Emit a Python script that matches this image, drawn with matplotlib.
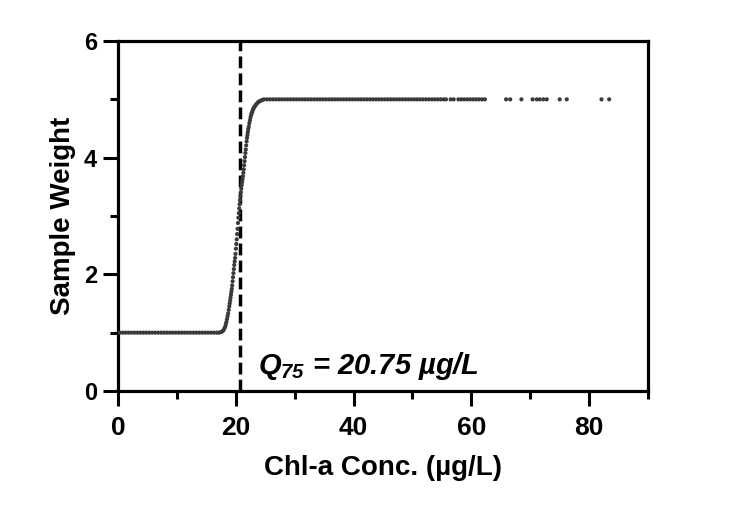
#!/usr/bin/env python3
"""Sample weight vs Chl-a concentration with Q75 threshold."""
import matplotlib
matplotlib.use('Agg')
import matplotlib.pyplot as plt
from matplotlib.ticker import MultipleLocator

# Low plateau (weight = 1)
low_conc = [0.3, 0.8, 1.3, 1.8, 2.3, 2.8, 3.3, 3.8, 4.3, 4.8, 5.3, 5.8,
            6.3, 6.8, 7.3, 7.8, 8.3, 8.8, 9.3, 9.8, 10.3, 10.8, 11.3, 11.8,
            12.3, 12.8, 13.3, 13.8, 14.3, 14.8, 15.3, 15.8, 16.3, 16.8, 17.2]
low_weight = [1.00, 1.00, 1.00, 1.00, 1.00, 1.00, 1.00, 1.00, 1.00, 1.00, 1.00, 1.00,
              1.00, 1.00, 1.00, 1.00, 1.00, 1.00, 1.00, 1.00, 1.00, 1.00, 1.00, 1.00,
              1.00, 1.00, 1.00, 1.00, 1.00, 1.00, 1.00, 1.00, 1.00, 1.00, 1.00]

# Transition around the threshold
rise_conc = [17.5, 17.7, 17.9, 18.05, 18.2, 18.3, 18.4, 18.5, 18.6, 18.7, 18.8,
             18.90, 18.97, 19.04, 19.11, 19.18, 19.25, 19.32, 19.39, 19.46, 19.53,
             19.60, 19.67, 19.74, 19.81, 19.88, 19.95, 20.02, 20.09, 20.16, 20.23,
             20.30, 20.37, 20.44, 20.51, 20.58, 20.65, 20.72, 20.79, 20.86, 20.93,
             21.00, 21.07, 21.14, 21.21, 21.28, 21.35, 21.42, 21.49, 21.56, 21.63,
             21.70, 21.77, 21.84, 21.91, 21.98, 22.05, 22.12, 22.20, 22.30, 22.40,
             22.50, 22.60, 22.70, 22.80, 22.90, 23.00, 23.15, 23.30, 23.50, 23.70,
             23.90, 24.10, 24.30, 24.50]
rise_weight = [1.01, 1.02, 1.04, 1.07, 1.10, 1.14, 1.18, 1.23, 1.28, 1.33, 1.39,
               1.45, 1.50, 1.55, 1.60, 1.65, 1.70, 1.75, 1.81, 1.88, 1.95,
               2.02, 2.09, 2.16, 2.22, 2.28, 2.35, 2.44, 2.52, 2.60, 2.69,
               2.78, 2.88, 2.97, 3.05, 3.13, 3.20, 3.27, 3.34, 3.41, 3.47,
               3.53, 3.58, 3.63, 3.68, 3.74, 3.80, 3.87, 3.94, 4.01, 4.08,
               4.14, 4.21, 4.28, 4.34, 4.39, 4.44, 4.49, 4.53, 4.59, 4.64,
               4.69, 4.73, 4.76, 4.79, 4.82, 4.84, 4.87, 4.89, 4.92, 4.94,
               4.96, 4.97, 4.98, 4.99]

# High plateau (weight = 5)
high_conc = [24.8, 25.3, 25.8, 26.3, 26.8, 27.3, 27.8, 28.3, 28.8, 29.3, 29.8,
             30.3, 30.8, 31.3, 31.8, 32.3, 32.8, 33.3, 33.8, 34.3, 34.8, 35.3,
             35.8, 36.3, 36.8, 37.3, 37.8, 38.3, 38.8, 39.3, 39.8, 40.3, 40.8,
             41.3, 41.8, 42.3, 42.8, 43.3, 43.8, 44.3, 44.8, 45.3, 45.8, 46.3,
             46.8, 47.3, 47.8, 48.3, 48.8, 49.3, 49.8, 50.3, 50.8, 51.3, 51.8,
             52.3, 52.8, 53.3, 53.8, 54.3, 54.8, 55.3, 55.7, 56.5, 57.0, 57.8,
             58.3, 58.8, 59.3, 59.8, 60.3, 60.8, 61.3, 61.8, 62.3,
             65.9, 66.6, 68.5, 70.4, 71.1, 71.6, 72.2, 72.8, 75.0, 76.2, 82.1, 83.4]
high_weight = [5.00, 5.00, 5.00, 5.00, 5.00, 5.00, 5.00, 5.00, 5.00, 5.00, 5.00,
               5.00, 5.00, 5.00, 5.00, 5.00, 5.00, 5.00, 5.00, 5.00, 5.00, 5.00,
               5.00, 5.00, 5.00, 5.00, 5.00, 5.00, 5.00, 5.00, 5.00, 5.00, 5.00,
               5.00, 5.00, 5.00, 5.00, 5.00, 5.00, 5.00, 5.00, 5.00, 5.00, 5.00,
               5.00, 5.00, 5.00, 5.00, 5.00, 5.00, 5.00, 5.00, 5.00, 5.00, 5.00,
               5.00, 5.00, 5.00, 5.00, 5.00, 5.00, 5.00, 5.00, 5.00, 5.00, 5.00,
               5.00, 5.00, 5.00, 5.00, 5.00, 5.00, 5.00, 5.00, 5.00,
               5.00, 5.00, 5.00, 5.00, 5.00, 5.00, 5.00, 5.00, 5.00, 5.00, 5.00, 5.00]

q75 = 20.75
q75_label = r'$Q_{75}$ = 20.75 µg/L'


def main():
    plt.rcParams['font.family'] = ['Liberation Sans', 'DejaVu Sans']
    plt.rcParams['font.weight'] = 'bold'
    # only the annotation uses mathtext, so make every math glyph bold italic
    plt.rcParams['mathtext.fontset'] = 'custom'
    plt.rcParams['mathtext.it'] = 'Liberation Sans:italic:bold'
    plt.rcParams['mathtext.rm'] = 'Liberation Sans:italic:bold'
    plt.rcParams['mathtext.bf'] = 'Liberation Sans:italic:bold'

    fig = plt.figure(figsize=(7.44, 5.26), dpi=100)
    ax = fig.add_axes([0.1586, 0.2567, 0.7124, 0.6653])

    dot_color = '#3a3a3a'
    for xs, ys in [(low_conc, low_weight), (rise_conc, rise_weight),
                   (high_conc, high_weight)]:
        ax.scatter(xs, ys, s=9, color=dot_color, edgecolors='none', zorder=3)

    # Q75 threshold line
    ax.axvline(q75, color='black', linewidth=2.5, dashes=(3.4, 1.5), zorder=2)

    ax.text(23.8, 0.29, q75_label, fontsize=21, fontweight='bold',
            fontstyle='italic', ha='left', va='baseline')

    ax.set_xlim(0, 90)
    ax.set_ylim(0, 6)
    ax.xaxis.set_major_locator(MultipleLocator(20))
    ax.xaxis.set_minor_locator(MultipleLocator(10))
    ax.yaxis.set_major_locator(MultipleLocator(2))
    ax.yaxis.set_minor_locator(MultipleLocator(1))

    for spine in ax.spines.values():
        spine.set_linewidth(2.3)

    ax.tick_params(which='major', direction='out', length=10.5, width=2.2)
    ax.tick_params(which='minor', direction='out', length=6, width=2.2)
    ax.tick_params(axis='x', which='major', pad=7.5, labelsize=19)
    ax.tick_params(axis='y', which='major', pad=4.5, labelsize=17)
    for lab in ax.get_xticklabels() + ax.get_yticklabels():
        lab.set_fontweight('bold')

    ax.set_xlabel('Chl-a Conc. (µg/L)', fontsize=20, fontweight='bold',
                  labelpad=11)
    ax.set_ylabel('Sample Weight', fontsize=20, fontweight='bold', labelpad=6)

    fig.savefig('out.png', dpi=100)


if __name__ == '__main__':
    main()
